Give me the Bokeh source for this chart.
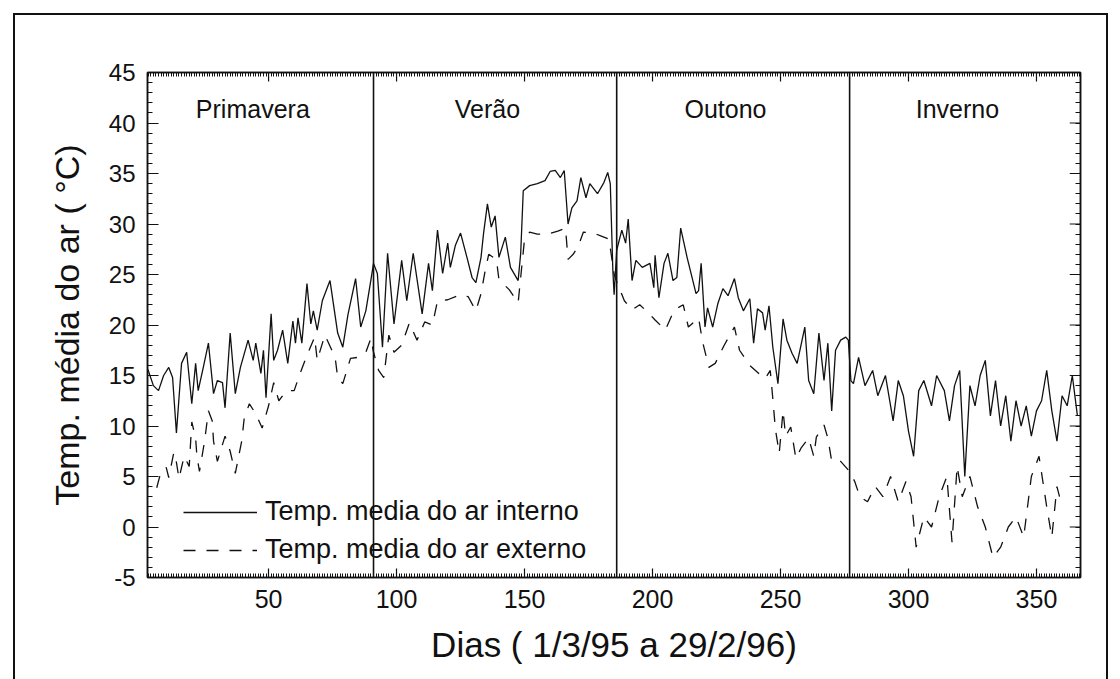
from bokeh.plotting import figure
from bokeh.models import (Range1d, LinearAxis, Span, Legend, LegendItem,
                          SingleIntervalTicker, FixedTicker, ColumnDataSource,
                          CustomJSTickFormatter)
from bokeh.core.properties import value
from bokeh.embed import file_html
from bokeh.resources import INLINE

# ---------------- data ----------------
int_days = [1, 3, 5, 7, 9, 11, 12.5, 14, 16, 18, 20, 21.5, 22.5, 24.5, 26.5, 28.5, 30, 32, 33,
            35, 37, 39, 42, 44, 45, 47, 48, 49, 51, 52, 53.5, 55.5, 57.5, 59.5, 60.5, 61.5, 63,
            65, 66.5, 67.5, 69, 71, 74, 77, 79, 81, 84, 86, 88, 90, 91, 92.5, 94.5, 96.5, 99,
            102, 104, 106.5, 110, 112.5, 114, 116, 118, 120, 121, 123, 125, 127.5, 129.5, 131,
            133, 134, 135.5, 137, 138.5, 140, 142.5, 144.5, 147.5, 148.5, 149.5, 152, 155, 158,
            160, 162, 164, 165.5, 167, 168.5, 170.5, 172, 174, 175.5, 178.5, 181, 182.5, 183.5,
            184.5, 185, 186, 188, 189.5, 190.5, 192, 193.5, 196, 199, 200.5, 201, 202.5, 204.5,
            206, 208, 209.5, 211, 213.5, 217, 218, 219, 220.5, 221.5, 223.5, 225.5, 227.5, 229.5,
            232, 233.5, 235.5, 238, 239.5, 241, 243, 244, 245.5, 247, 249, 251, 252.5, 254.5,
            256.5, 259.5, 261, 263, 265, 267, 268.5, 270, 271.5, 273.5, 275.5, 276.5, 277.5,
            278.5, 280.5, 283, 286, 288, 291, 294, 296, 298, 300, 302, 304, 306, 309, 311, 314,
            316, 318, 320, 322, 324, 326, 328, 330, 332, 334, 336, 338, 340, 342, 344, 346, 348,
            350, 352, 354, 356, 358, 360, 362, 364, 366]
int_temp = [16.5, 15.5, 14.0, 13.5, 15.0, 15.8, 14.8, 9.3, 16.2, 17.3, 12.2, 16.2, 13.5, 15.8,
            18.2, 13.2, 14.5, 14.3, 11.8, 19.2, 13.2, 15.8, 18.5, 16.5, 18.2, 15.2, 17.5, 12.8,
            21.1, 16.5, 17.5, 19.5, 16.2, 20.4, 18.2, 20.7, 18.2, 24.1, 20.1, 21.4, 19.5, 22.4,
            24.4, 19.2, 17.8, 21.0, 24.6, 19.8, 21.4, 24.5, 26.1, 25.1, 17.8, 27.1, 20.1, 26.4,
            22.4, 27.1, 21.1, 26.1, 23.4, 29.4, 25.1, 28.1, 25.7, 27.9, 29.1, 26.7, 24.7, 24.2,
            26.7, 29.1, 32.0, 29.7, 30.8, 26.7, 28.7, 25.7, 24.4, 27.1, 33.3, 33.8, 34.0, 34.3,
            35.2, 35.3, 34.6, 35.3, 30.0, 31.6, 32.3, 34.6, 32.6, 34.0, 33.0, 34.1, 35.1, 34.0,
            25.4, 23.0, 27.4, 29.4, 28.1, 30.5, 24.4, 26.4, 25.7, 26.1, 23.7, 26.9, 22.7, 26.1,
            27.1, 24.4, 24.7, 29.6, 26.7, 23.1, 23.4, 26.1, 19.8, 21.7, 19.8, 22.1, 23.6, 22.9,
            24.6, 22.7, 21.4, 22.6, 18.2, 21.6, 21.2, 19.5, 21.9, 17.8, 14.2, 20.6, 18.5, 17.2,
            16.2, 19.8, 14.5, 13.2, 19.2, 14.5, 18.2, 11.5, 17.5, 18.5, 18.8, 18.5, 14.5,
            14.2, 16.8, 14.0, 15.5, 13.0, 15.0, 10.5, 14.5, 13.0, 9.5, 7.0, 13.5, 14.5, 12.0,
            15.0, 13.5, 10.5, 14.0, 15.5, 5.0, 14.0, 12.0, 15.0, 16.5, 11.0, 14.5, 10.0, 13.0,
            8.5, 12.5, 10.0, 12.0, 9.0, 11.5, 12.5, 15.5, 11.5, 8.5, 13.0, 12.0, 15.0, 11.0, 13.5]

ext_days = [1, 3, 6, 8, 10, 11, 13, 14, 15, 17, 19, 20, 21.5, 22, 23, 25, 26.5, 28, 28.5, 30,
            33, 35, 37, 39.5, 40.5, 42.5, 45, 47.5, 50, 52, 54, 57, 60, 62, 65, 68, 69, 72, 76,
            77, 79, 82, 85, 88, 90, 91, 93, 95, 97, 99, 102, 105, 108, 111, 114, 116, 120, 125,
            128, 131, 133, 134.5, 136, 139, 140, 144, 147.5, 150, 152, 155, 159, 163, 166, 167,
            169, 171, 173, 177, 180, 183, 185, 186, 189, 192, 195, 198, 201, 205, 208.5, 212,
            214, 218, 219.5, 222, 224.5, 228, 232, 234, 238, 242, 244, 246, 247, 248, 249.5, 251,
            252, 254, 256, 258, 261, 263, 264, 267, 268.5, 270, 273.5, 277, 279, 281, 284, 287,
            290, 293, 296, 299, 301, 303, 306, 309, 312, 315, 317, 319, 321, 324, 327, 330, 333,
            336, 339, 342, 345, 348, 351, 354, 356, 358, 360, 363, 366]
ext_temp = [5.0, 4.0, 3.6, 5.5, 5.9, 4.9, 7.4, 6.4, 4.8, 7.0, 6.0, 10.4, 8.8, 7.0, 5.5, 8.5,
            11.5, 10.5, 8.5, 6.5, 9.0, 7.5, 5.3, 8.5, 10.8, 12.2, 11.2, 9.8, 12.0, 14.3, 12.5,
            13.5, 13.5, 15.0, 17.0, 18.8, 16.5, 19.0, 16.8, 14.8, 14.2, 16.7, 16.8, 17.3, 18.7,
            17.3, 15.5, 14.8, 19.0, 17.3, 18.0, 20.2, 18.5, 20.3, 20.0, 22.4, 22.5, 23.0, 22.8,
            21.4, 23.1, 25.2, 27.0, 26.5, 24.5, 23.5, 22.2, 28.5, 29.2, 29.0, 29.0, 29.3, 29.6,
            26.5, 27.0, 27.8, 29.2, 29.1, 28.8, 28.5, 25.0, 24.3, 22.4, 21.5, 22.0, 21.3, 20.5,
            19.5, 21.5, 22.0, 19.8, 20.7, 18.4, 15.8, 16.2, 18.0, 19.8, 17.5, 16.0, 15.1, 14.7,
            15.5, 12.7, 9.7, 7.3, 11.5, 9.0, 9.9, 6.8, 7.8, 8.8, 7.0, 8.9, 10.1, 8.8, 6.5, 6.5,
            5.5, 4.5, 3.0, 2.5, 4.0, 3.0, 5.0, 2.5, 4.5, 3.0, -2.0, 1.0, 0.0, 3.0, 5.0, -1.5,
            6.0, 3.0, 5.0, 2.0, 0.0, -3.0, -2.0, 0.0, 1.0, -1.0, 5.0, 7.0, 2.0, -1.0, 4.0, 2.0]

season_bounds = [91, 186, 277]
season_names = ["Primavera", "Verão", "Outono", "Inverno"]
x_major = [50, 100, 150, 200, 250, 300, 350]
y_major = [-5, 0, 5, 10, 15, 20, 25, 30, 35, 40, 45]

X0, X1 = 2.7, 367.2
Y0, Y1 = -5, 45
INK = "#111111"
FONT = "Liberation Sans"

# ---------------- figure ----------------
p = figure(width=1120, height=679, output_backend="svg", toolbar_location=None,
           x_range=Range1d(X0, X1), y_range=Range1d(Y0, Y1),
           min_border_left=147, min_border_right=40, min_border_top=72,
           min_border_bottom=102)
p.background_fill_color = None
p.border_fill_color = None
p.styles = {
    "background": "linear-gradient(#111,#111) 13px 13px / 2px 100% no-repeat, "
                  "linear-gradient(#111,#111) 1106px 13px / 2px 100% no-repeat, "
                  "linear-gradient(#111,#111) 13px 13px / 1095px 2px no-repeat, #ffffff"
}
p.grid.visible = False
p.outline_line_color = INK
p.outline_line_width = 1.5


def style_axis(ax, major_in, minor_in):
    ax.axis_line_color = INK
    ax.axis_line_width = 1.5
    ax.major_tick_in = major_in
    ax.major_tick_out = 0
    ax.minor_tick_in = minor_in
    ax.minor_tick_out = 0
    ax.major_tick_line_color = INK
    ax.minor_tick_line_color = INK
    ax.major_tick_line_width = 1.2
    ax.minor_tick_line_width = 1


plain = CustomJSTickFormatter(code="return tick.toString();")

p.xaxis.ticker = SingleIntervalTicker(interval=50, num_minor_ticks=50)
p.yaxis.ticker = SingleIntervalTicker(interval=5, num_minor_ticks=5)
for ax in p.xaxis:
    style_axis(ax, 9, 4)
    ax.formatter = plain
    ax.major_label_text_font = FONT
    ax.major_label_text_font_size = "25px"
    ax.major_label_text_color = INK
    ax.major_label_standoff = 12
    ax.axis_label = "Dias ( 1/3/95 a 29/2/96)"
    ax.axis_label_text_font = FONT
    ax.axis_label_text_font_size = "35px"
    ax.axis_label_text_font_style = "normal"
    ax.axis_label_text_color = INK
    ax.axis_label_standoff = 14
for ax in p.yaxis:
    style_axis(ax, 11, 5)
    ax.formatter = plain
    ax.major_label_text_font = FONT
    ax.major_label_text_font_size = "24px"
    ax.major_label_text_color = INK
    ax.major_label_standoff = 12
    ax.axis_label = "Temp. média do ar ( °C)"
    ax.axis_label_text_font = FONT
    ax.axis_label_text_font_size = "34px"
    ax.axis_label_text_font_style = "normal"
    ax.axis_label_text_color = INK
    ax.axis_label_standoff = 20

# top and right axes: ticks only (no labels)
top = LinearAxis(ticker=FixedTicker(ticks=[], minor_ticks=list(range(3, 368))))
style_axis(top, 0, 4)
right = LinearAxis(ticker=FixedTicker(ticks=[], minor_ticks=list(range(-5, 46))))
style_axis(right, 0, 5)
p.add_layout(top, "above")
p.add_layout(right, "right")
# longer major ticks on top and right sides
p.segment(x0=x_major, y0=[Y1] * len(x_major), x1=x_major, y1=[Y1 - 0.9] * len(x_major),
          line_color=INK, line_width=1.2)
p.segment(x0=[X1] * len(y_major), y0=y_major, x1=[X1 - 4.2] * len(y_major), y1=y_major,
          line_color=INK, line_width=1.2)

# season dividers
for b in season_bounds:
    p.add_layout(Span(location=b, dimension="height", line_color=INK, line_width=1.6))

# season labels: centred in each season, slightly left
edges = [X0] + season_bounds + [X1]
lab_x = [(edges[i] + edges[i + 1]) / 2 - 3 for i in range(4)]
p.text(x=lab_x, y=[41.4] * 4, text=season_names, text_align="center",
       text_baseline="middle", text_font=value(FONT),
       text_font_size="25px", text_color=INK)

src_i = ColumnDataSource(dict(x=int_days, y=int_temp))
src_e = ColumnDataSource(dict(x=ext_days, y=ext_temp))
r_int = p.line("x", "y", source=src_i, line_color=INK, line_width=1.3)
r_ext = p.line("x", "y", source=src_e, line_color=INK, line_width=1.3,
               line_dash="12 11")

legend = Legend(items=[LegendItem(label="Temp. media do ar interno", renderers=[r_int]),
                       LegendItem(label="Temp. media do ar externo", renderers=[r_ext])],
                location=(36, 12), glyph_width=74, glyph_height=30, label_height=30,
                label_standoff=8, spacing=7, padding=0, margin=0,
                border_line_alpha=0, background_fill_alpha=0,
                label_text_font=FONT, label_text_font_size="27px",
                label_text_color=INK)
p.add_layout(legend)

open("out.html", "w").write(file_html(p, INLINE))
